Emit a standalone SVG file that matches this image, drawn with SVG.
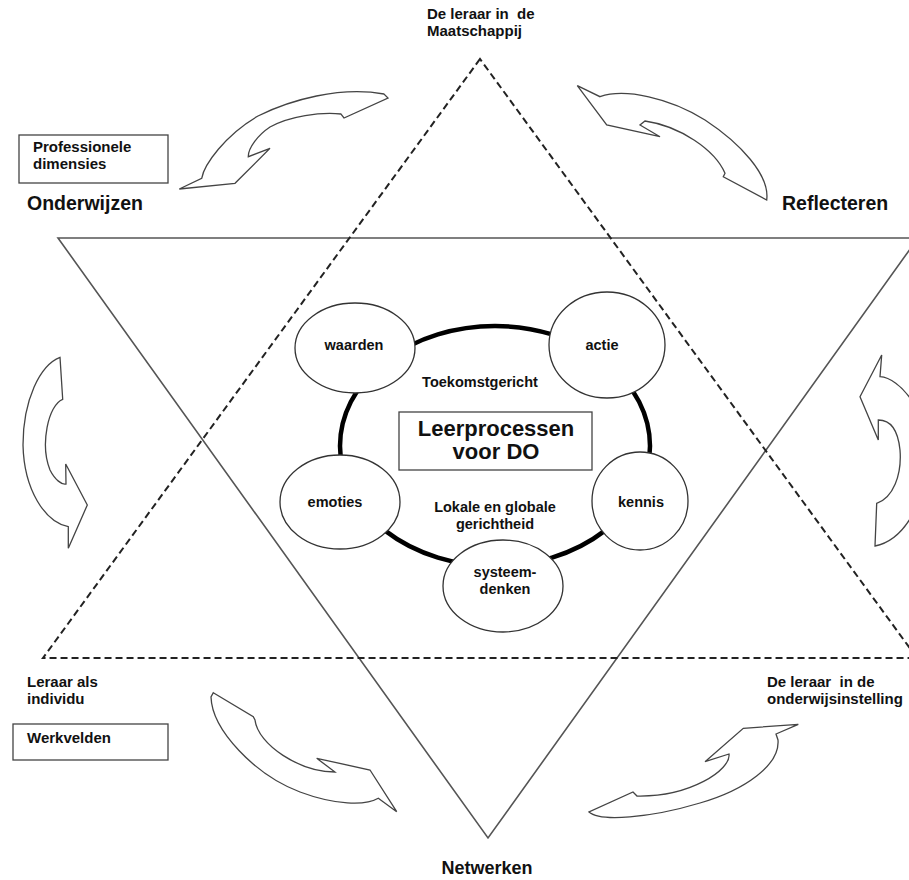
<svg xmlns="http://www.w3.org/2000/svg" width="909" height="880" viewBox="0 0 909 880">
<style>
text{font-family:"Liberation Sans",Arial,sans-serif;font-weight:bold;fill:#111}
.lbl{font-size:15px}
.head{font-size:19.5px}
.c{font-size:14.5px;text-anchor:middle}
.big{font-size:22px;text-anchor:middle}
.arrow{fill:#fff;stroke:#444;stroke-width:1.3;stroke-linejoin:miter}
.node{fill:#fff;stroke:#333;stroke-width:1.3}
.box{fill:#fff;stroke:#444;stroke-width:1.3}
</style>
<rect x="0" y="0" width="909" height="880" fill="#fff"/>
<g id="triangles">
<polygon points="58,238 918,238 488,838" fill="none" stroke="#555" stroke-width="1.6"/>
<polygon points="480,59 43,658 917,658" fill="none" stroke="#222" stroke-width="2" stroke-dasharray="7 4"/>
</g>
<g id="connectors">
<ellipse cx="495" cy="446" rx="155" ry="120" fill="none" stroke="#000" stroke-width="4.5"/>
<path id="arrow-tl" class="arrow" d="M179.3,189 L201.7,178.3 C204,165 225,135 258,116 C290,100 340,86 384,94 L388,98 L344,118 L341,114 C320,112 290,116 270,127 C258,135 248,148 248.3,156.7 L270,148.3 L235,183.3 Z"/>
<path id="arrow-tr" class="arrow" d="M577.3,85.7 L600,96.7 C625,88 670,98 705,120 C740,143 770,175 766.7,200 L723.3,176.7 L725,173.3 C715,150 680,126 645,121 L640,125 L660,136.7 L606.7,125 Z"/>
<path id="arrow-l" class="arrow" d="M60,357.3 L62.7,399.3 C48,405 40,445 50,470 C55,480 62,485 66,484 L65.7,464 L87.3,505 L68.3,548.3 L68.3,526.7 C45,522 24,490 23,445 C23,400 40,365 60,357.3 Z"/>
<path id="arrow-r" class="arrow" d="M881.7,355 L880,376.7 C900,378 927,410 927,455 C927,500 905,540 875,546 L876.7,503.3 C893,498 902,475 900,450 C898,430 890,420 878.3,420 L878.3,440 L860,396.7 Z"/>
<path id="arrow-bl" class="arrow" d="M213.3,692.7 L253.3,716.7 L255,720 C258,745 300,772 335,772 L316.7,758.3 L370,770 L396.7,811.7 L378.3,798.3 C365,806 335,805 300,792 C255,775 212,730 211,697 Z"/>
<path id="arrow-br" class="arrow" d="M798.3,724.3 L743.3,728.3 L705,761.7 L729,754 C731,770 690,797 637,796 L633,792 L589,812 C600,822 650,818 700,803 C745,790 780,765 778,740 L776,734 Z"/>
</g>
<g id="label-maatschappij">
<text class="lbl" x="427" y="19" xml:space="preserve">De leraar in  de</text>
<text class="lbl" x="427" y="36">Maatschappij</text>
</g>
<g id="box-professionele">
<rect class="box" x="19" y="135" width="149" height="48"/>
<text class="lbl" x="33" y="152">Professionele</text>
<text class="lbl" x="33" y="169">dimensies</text>
</g>
<g id="label-onderwijzen"><text class="head" x="27" y="210">Onderwijzen</text></g>
<g id="label-reflecteren"><text class="head" x="782" y="210">Reflecteren</text></g>
<g id="label-individu">
<text class="lbl" x="27" y="687">Leraar als</text>
<text class="lbl" x="27" y="704">individu</text>
</g>
<g id="box-werkvelden">
<rect class="box" x="13" y="724" width="155" height="36"/>
<text class="lbl" x="27" y="743">Werkvelden</text>
</g>
<g id="label-onderwijsinstelling">
<text class="lbl" x="767" y="687" xml:space="preserve">De leraar  in de</text>
<text class="lbl" x="767" y="704">onderwijsinstelling</text>
</g>
<g id="label-netwerken"><text class="head" x="487" y="874" style="font-size:18px;text-anchor:middle">Netwerken</text></g>
<g id="center-labels">
<text class="c" x="480" y="387">Toekomstgericht</text>
<text class="c" x="495" y="512">Lokale en globale</text>
<text class="c" x="495" y="529">gerichtheid</text>
</g>
<g id="node-leerprocessen">
<rect class="box" x="399" y="412" width="193" height="58"/>
<text class="big" x="496" y="436">Leerprocessen</text>
<text class="big" x="496" y="459">voor DO</text>
</g>
<g id="node-waarden">
<ellipse class="node" cx="355" cy="348" rx="60" ry="45"/>
<text class="c" x="354" y="350">waarden</text>
</g>
<g id="node-actie">
<ellipse class="node" cx="607" cy="345" rx="58" ry="53"/>
<text class="c" x="602" y="350">actie</text>
</g>
<g id="node-emoties">
<ellipse class="node" cx="340" cy="502" rx="60" ry="47"/>
<text class="c" x="335" y="507">emoties</text>
</g>
<g id="node-kennis">
<ellipse class="node" cx="640" cy="501" rx="48" ry="49"/>
<text class="c" x="641" y="507">kennis</text>
</g>
<g id="node-systeemdenken">
<ellipse class="node" cx="503" cy="586" rx="60" ry="46"/>
<text class="c" x="505" y="577">systeem-</text>
<text class="c" x="505" y="594">denken</text>
</g>
</svg>
